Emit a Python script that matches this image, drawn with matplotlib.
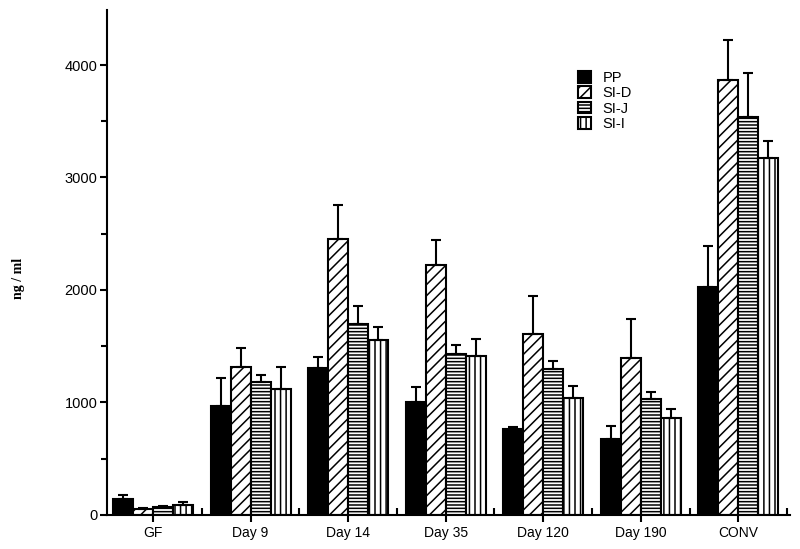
import matplotlib
matplotlib.use("Agg")
import matplotlib.pyplot as plt
import numpy as np
from matplotlib.ticker import MultipleLocator, FixedLocator

categories = ["GF", "Day 9", "Day 14", "Day 35", "Day 120", "Day 190", "CONV"]
series_names = ["PP", "SI-D", "SI-J", "SI-I"]
pp = [142, 972, 1310, 1001, 761, 673, 2030]
pp_err = [33, 248, 97, 140, 24, 121, 361]
sid = [52, 1318, 2453, 2225, 1606, 1398, 3867]
sid_err = [6, 169, 299, 219, 338, 341, 352]
sij = [70, 1179, 1698, 1428, 1301, 1034, 3538]
sij_err = [6, 65, 160, 86, 71, 59, 391]
sii = [92, 1117, 1552, 1413, 1037, 859, 3173]
sii_err = [20, 201, 116, 154, 110, 86, 151]

values = [pp, sid, sij, sii]
errors = [pp_err, sid_err, sij_err, sii_err]
colors = ["black", "white", "white", "white"]
hatches = [None, "///", "-----", "|||"]

plt.rcParams["font.family"] = ["Liberation Sans", "DejaVu Sans"]
plt.rcParams["hatch.linewidth"] = 1.1

fig = plt.figure(figsize=(8, 5.49), dpi=100)
ax = fig.add_axes([0.134, 0.062, 0.8535, 0.92])

x = np.arange(len(categories))
w = 0.205
for k in range(4):
    pos = x + (k - 1.5) * w
    ax.bar(pos, values[k], width=w, color=colors[k], edgecolor="black",
           linewidth=1.5, hatch=hatches[k], label=series_names[k], zorder=2)
    ax.errorbar(pos, values[k], yerr=[np.zeros(len(x)), errors[k]], fmt="none",
                ecolor="black", elinewidth=1.5, capsize=3.5, capthick=1.5, zorder=3)

ax.set_xlim(-0.47, 6.53)
ax.set_ylim(0, 4490)
for s in ["top", "right"]:
    ax.spines[s].set_visible(False)
ax.spines["left"].set_linewidth(1.5)
ax.spines["bottom"].set_linewidth(1.5)

ax.set_xticks(x)
ax.set_xticklabels(categories, fontsize=10)
ax.xaxis.set_minor_locator(FixedLocator(np.arange(0.5, 6.6, 1.0)))
ax.tick_params(axis="x", which="major", direction="out", length=5, width=1.5, pad=3)
ax.tick_params(axis="x", which="minor", direction="in", length=5, width=1.5)

ax.yaxis.set_major_locator(MultipleLocator(1000))
ax.yaxis.set_minor_locator(MultipleLocator(500))
ax.tick_params(axis="y", which="major", direction="out", length=5, width=1.5, labelsize=10.5, pad=2)
ax.tick_params(axis="y", which="minor", direction="out", length=4, width=1.5)

ax.set_ylabel("ng / ml", fontsize=10, fontweight="bold", family=["Liberation Serif", "DejaVu Serif"])
ax.yaxis.set_label_coords(-0.12, 0.469)

leg = ax.legend(loc="upper left", bbox_to_anchor=(0.681, 0.891), frameon=False,
                handlelength=0.9, handleheight=0.85, handletextpad=0.8,
                labelspacing=0.1, fontsize=10.5, borderaxespad=0)

fig.savefig("out.png", dpi=100)
